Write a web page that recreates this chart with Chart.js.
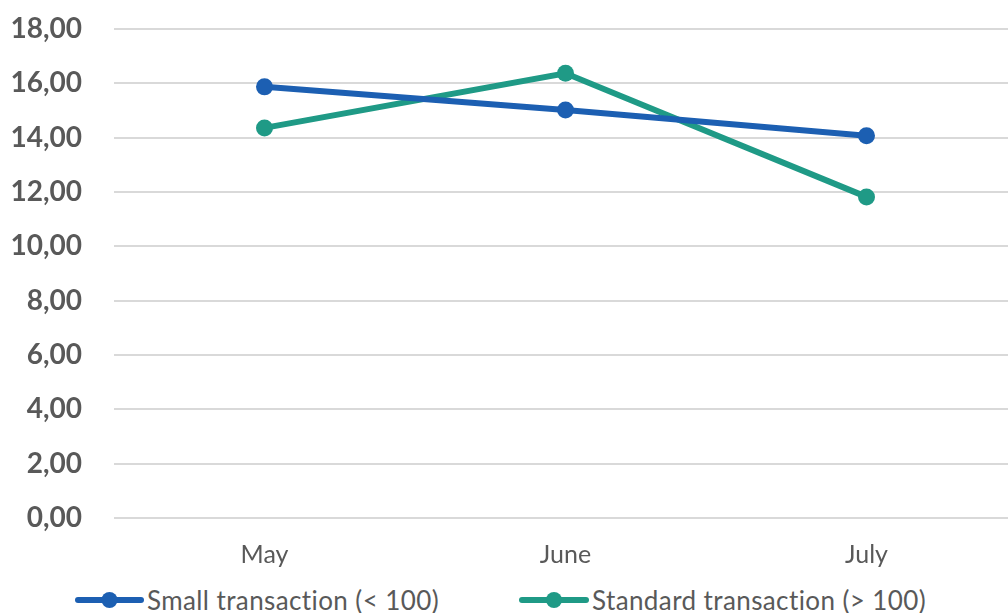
<!DOCTYPE html>
<html>
<head>
<meta charset="utf-8">
<script src="https://cdn.jsdelivr.net/npm/chart.js@4.4.1/dist/chart.umd.min.js"></script>
<style>
  html, body { margin: 0; padding: 0; background: #fff; overflow: hidden; }
  body { width: 1008px; height: 613px; position: relative; }
  #chart { position: absolute; left: 0; top: 0; }
  .legend-item { position: absolute; top: 585px; height: 30px; display: flex; align-items: center;
    font-family: Lato, sans-serif; font-size: 26px; letter-spacing: 0.4px; color: #595959; white-space: nowrap; }
  .legend-item svg { margin-right: 3px; }
</style>
</head>
<body>
<canvas id="chart" width="1017" height="580"></canvas>
<div class="legend-item" id="leg0" style="left:75px"></div>
<div class="legend-item" id="leg1" style="left:519px"></div>
<script>
const months = ['May', 'June', 'July'];
const smallTx = [15.87, 15.02, 14.07];
const standardTx = [14.36, 16.37, 11.82];
const yTickLabels = ['0,00', '2,00', '4,00', '6,00', '8,00', '10,00', '12,00', '14,00', '16,00', '18,00'];
const seriesNames = ['Small transaction (< 100)', 'Standard transaction (> 100)'];
const seriesColors = ['#1C5FB2', '#1F9A86'];

// ---- legend (html) ----
function legendItem(el, name, color, w) {
  el.innerHTML = `<svg width="${w}" height="20"><line x1="3" y1="10" x2="${w - 3}" y2="10" stroke="${color}" stroke-width="6" stroke-linecap="round"/><circle cx="${w / 2}" cy="10" r="8" fill="${color}"/></svg><span>${name}</span>`;
}
legendItem(document.getElementById('leg0'), seriesNames[0], seriesColors[0], 69);
legendItem(document.getElementById('leg1'), seriesNames[1], seriesColors[1], 70);

// ---- chart ----
function makeDataset(label, data, color) {
  return {
    label, data,
    borderColor: color, backgroundColor: color,
    borderWidth: 6, pointRadius: 8.5, pointHoverRadius: 8.5,
    pointBorderWidth: 0, tension: 0
  };
}

new Chart(document.getElementById('chart'), {
  type: 'line',
  data: {
    labels: months,
    datasets: [
      makeDataset(seriesNames[0], smallTx, seriesColors[0]),
      makeDataset(seriesNames[1], standardTx, seriesColors[1])
    ]
  },
  options: {
    responsive: false,
    animation: false,
    layout: { autoPadding: false, padding: { top: 29, right: 0, bottom: 0, left: 0 } },
    plugins: { legend: { display: false }, tooltip: { enabled: false } },
    scales: {
      x: {
        offset: true,
        grid: { display: false, drawTicks: false },
        border: { display: false },
        ticks: { color: '#595959', padding: 22, font: { family: 'Lato', size: 25 } },
        afterFit: (s) => { s.height = 62; s.paddingLeft = 0; s.paddingRight = 0; }
      },
      y: {
        min: 0, max: 18,
        ticks: {
          stepSize: 2, padding: 32, color: '#595959',
          font: { family: 'Lato', size: 28, weight: 'bold' },
          callback: (v, i) => yTickLabels[i]
        },
        grid: { color: '#d9d9d9', lineWidth: 2, drawTicks: false },
        border: { display: false },
        afterFit: (s) => { s.width = 114; s.paddingTop = 0; s.paddingBottom = 0; }
      }
    }
  }
});
</script>
</body>
</html>
